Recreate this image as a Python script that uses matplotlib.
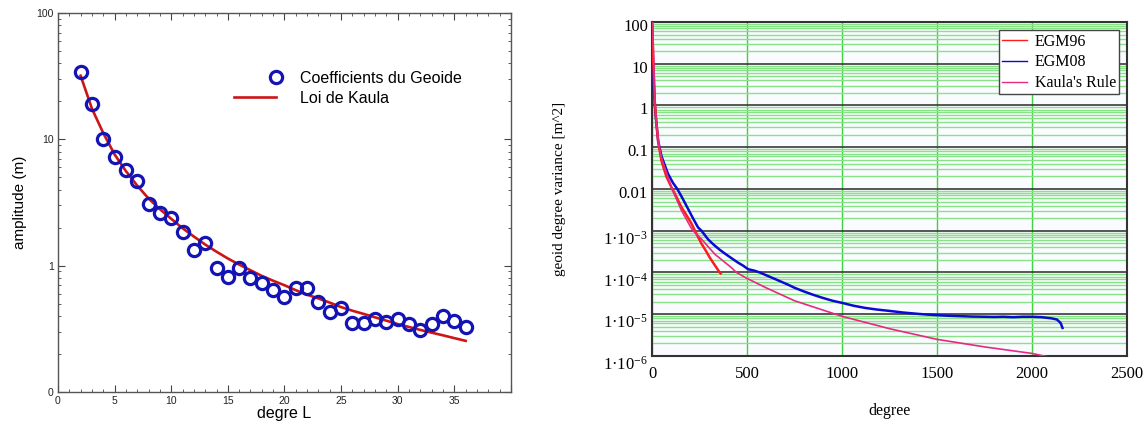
import numpy as np
import matplotlib
matplotlib.use("Agg")
from matplotlib import pyplot as plt
from matplotlib.ticker import LogLocator, FixedLocator, NullFormatter, MultipleLocator
from matplotlib.legend_handler import HandlerLine2D
import matplotlib.transforms as mtrans

# ---- left panel data ----
degre_L = [2, 3, 4, 5, 6, 7, 8, 9, 10, 11, 12, 13, 14, 15, 16, 17, 18, 19,
           20, 21, 22, 23, 24, 25, 26, 27, 28, 29, 30, 31, 32, 33, 34, 35, 36]
coeff_geoide = [33.9, 19.0, 10.0, 7.3, 5.75, 4.7, 3.06, 2.6, 2.4, 1.85, 1.32,
                1.5, 0.96, 0.82, 0.96, 0.80, 0.73, 0.64, 0.565, 0.66, 0.665,
                0.52, 0.43, 0.465, 0.35, 0.35, 0.38, 0.356, 0.376, 0.345,
                0.311, 0.347, 0.40, 0.363, 0.329]
kaula_amp = [31.9, 17.5, 11.2, 7.6, 5.6, 4.3, 3.4, 2.8, 2.35, 1.98, 1.7, 1.47,
             1.29, 1.14, 1.02, 0.92, 0.83, 0.76, 0.70, 0.64, 0.59, 0.55, 0.51,
             0.47, 0.44, 0.415, 0.39, 0.367, 0.345, 0.327, 0.31, 0.295, 0.281,
             0.267, 0.254]

# ---- right panel data ----
egm96_deg = [2, 5, 9, 14, 20, 32, 49, 75, 102, 128, 154, 180, 207, 233, 260,
             280, 303, 330, 356, 361]
egm96_var = [80, 18, 5.5, 1.3, 0.55, 0.14, 0.048, 0.02, 0.011, 6.5e-3, 3.7e-3,
             2.4e-3, 1.5e-3, 8.5e-4, 4.9e-4, 3.5e-4, 2.3e-4, 1.5e-4, 1.0e-4,
             9.5e-5]

egm08_deg = [2, 4, 8, 14, 20, 32, 50, 84, 110, 133, 160, 190, 215, 242, 260,
             295, 325, 356, 385, 418, 450, 480, 505, 540, 567, 600, 640, 680,
             720, 750, 800, 850, 900, 950, 1000, 1060, 1120, 1180, 1250, 1320,
             1400, 1450, 1500, 1560, 1620, 1680, 1750, 1800, 1850, 1900, 1950,
             2000, 2050, 2100, 2130, 2150, 2160]
egm08_var = [60, 15, 4.0, 1.1, 0.5, 0.14, 0.06, 0.023, 0.014, 0.01, 6e-3,
             3.3e-3, 2.0e-3, 1.2e-3, 1.0e-3, 6.2e-4, 4.6e-4, 3.5e-4, 2.8e-4,
             2.2e-4, 1.75e-4, 1.45e-4, 1.2e-4, 1.1e-4, 1.0e-4, 8.6e-5, 7.2e-5,
             6.0e-5, 5.0e-5, 4.3e-5, 3.5e-5, 2.9e-5, 2.45e-5, 2.1e-5, 1.87e-5,
             1.6e-5, 1.42e-5, 1.3e-5, 1.2e-5, 1.1e-5, 1.02e-5, 9.8e-6, 9.5e-6,
             9.2e-6, 9.0e-6, 8.8e-6, 8.7e-6, 8.6e-6, 8.7e-6, 8.5e-6, 8.7e-6,
             8.7e-6, 8.5e-6, 8.0e-6, 7.5e-6, 6.2e-6, 4.7e-6]

kaula_deg = [3, 4, 6, 9, 12, 16, 25, 37, 50, 84, 105, 154, 207, 216, 260, 330,
             418, 444, 500, 600, 750, 1000, 1250, 1500, 1750, 2000, 2085]
kaula_var = [200, 100, 30, 10, 4, 1, 0.3, 0.1, 0.055, 0.019, 0.01, 3.1e-3,
             1.14e-3, 1e-3, 6.3e-4, 2.75e-4, 1.3e-4, 1e-4, 7.2e-5, 4.3e-5,
             2.1e-5, 8.9e-6, 4.5e-6, 2.5e-6, 1.65e-6, 1.15e-6, 9.5e-7]

right_yticks = [1e-6, 1e-5, 1e-4, 1e-3, 0.01, 0.1, 1, 10, 100]
right_ylabels = [r'$\mathdefault{1·10^{-6}}$', r'$\mathdefault{1·10^{-5}}$',
                 r'$\mathdefault{1·10^{-4}}$', r'$\mathdefault{1·10^{-3}}$',
                 '0.01', '0.1', '1', '10', '100']

SANS = ['Liberation Sans', 'DejaVu Sans']
SERIF = ['Liberation Serif', 'DejaVu Serif']


class MarkerAtEnd(HandlerLine2D):
    # the single marker sits in the middle of xdata, so stretch xdata to put
    # it at the right end of the handle box (marker-only handle, no line)
    def get_xdata(self, legend, xdescent, ydescent, width, height, fontsize):
        x = np.array([-xdescent, -xdescent + 2 * width])
        return x, np.array([-xdescent + width])


def left_panel(fig):
    ax = fig.add_axes([0.0505, 0.0776, 0.3946, 0.8918])
    pts, = ax.plot(degre_L, coeff_geoide, 'o', ms=8.8, mfc='none', mec='#1414b4',
                   mew=2.3, label='Coefficients du Geoide', zorder=3)
    ax.plot(degre_L, kaula_amp, '-', color='#cc1616', lw=1.9,
            label='Loi de Kaula', zorder=2)
    ax.set_yscale('log')
    ax.set_xlim(0, 40)
    ax.set_ylim(0.1, 100)
    ax.xaxis.set_major_locator(FixedLocator([0, 5, 10, 15, 20, 25, 30, 35, 40]))
    ax.set_xticklabels(['0', '5', '10', '15', '20', '25', '30', '35', ''])
    ax.xaxis.set_minor_locator(MultipleLocator(1))
    ax.yaxis.set_major_locator(FixedLocator([0.1, 1, 10, 100]))
    ax.set_yticklabels(['0', '1', '10', '100'])
    ax.yaxis.set_minor_locator(LogLocator(base=10, subs=np.arange(2, 10), numticks=50))
    ax.yaxis.set_minor_formatter(NullFormatter())
    ax.tick_params(which='both', direction='in', top=True, right=True,
                   colors='#444444', labelcolor='#222222')
    ax.tick_params(which='major', length=5, width=0.8, labelsize=7.5, pad=3)
    ax.tick_params(which='minor', length=2.5, width=0.6)
    for lab in ax.get_xticklabels() + ax.get_yticklabels():
        lab.set_family(SANS)
    for s in ax.spines.values():
        s.set_color('#555555')
        s.set_linewidth(1.0)
    ax.set_ylabel('amplitude (m)', fontsize=11, family=SANS, labelpad=7)
    ax.set_xlabel('degre L', fontsize=11.5, family=SANS, labelpad=0)
    ax.legend(loc='upper left', bbox_to_anchor=(0.375, 0.864),
              frameon=False, handlelength=2.6, handletextpad=1.5,
              labelspacing=0.3, borderaxespad=0,
              handler_map={pts: MarkerAtEnd(numpoints=1)},
              prop={'family': SANS, 'size': 11.5})
    return ax


def right_panel(fig):
    ax = fig.add_axes([0.568, 0.1624, 0.4138, 0.7859])
    ax.set_facecolor('#fafbff')
    ax.plot(egm08_deg, egm08_var, color='#0a0ad2', lw=1.8, label='EGM08', zorder=3)
    ax.plot(egm96_deg, egm96_var, color='#ff1c1c', lw=1.8, label='EGM96', zorder=4)
    ax.plot(kaula_deg, kaula_var, color='#e62a82', lw=1.2,
            label="Kaula's Rule", zorder=5)
    ax.set_yscale('log')
    ax.set_xlim(0, 2500)
    ax.set_ylim(1e-6, 100)
    ax.set_xticks([0, 500, 1000, 1500, 2000, 2500])
    ax.yaxis.set_major_locator(FixedLocator(right_yticks))
    ax.set_yticklabels(right_ylabels)
    ax.yaxis.set_minor_locator(LogLocator(base=10, subs=np.arange(2, 10), numticks=100))
    ax.yaxis.set_minor_formatter(NullFormatter())
    ax.grid(which='minor', axis='y', color='#86e486', lw=1.0, zorder=0)
    ax.grid(which='major', axis='y', color='#3a3a3a', lw=1.2, zorder=1)
    ax.grid(which='major', axis='x', color='#3ed23e', lw=1.0, zorder=1)
    ax.set_axisbelow(True)
    ax.tick_params(which='both', length=0, labelsize=12)
    ax.tick_params(axis='x', pad=7)
    ax.tick_params(axis='y', pad=3)
    for lab in ax.get_xticklabels() + ax.get_yticklabels():
        lab.set_family(SERIF)
    for lab in ax.get_yticklabels():
        dy = -7 if '$' in lab.get_text() else -3
        off = mtrans.ScaledTranslation(0, dy / 100., fig.dpi_scale_trans)
        lab.set_transform(lab.get_transform() + off)
    for s in ax.spines.values():
        s.set_color('#333333')
        s.set_linewidth(1.5)
    ax.set_xlabel('degree', fontsize=11.5, family=SERIF, labelpad=15)
    ax.set_ylabel('geoid degree variance [m^2]', fontsize=11, family=SERIF,
                  labelpad=27)
    handles, labels = ax.get_legend_handles_labels()
    order = [1, 0, 2]
    leg = ax.legend([handles[i] for i in order], [labels[i] for i in order],
                    loc='upper right', bbox_to_anchor=(0.983, 0.975),
                    borderaxespad=0, fancybox=False, framealpha=1,
                    edgecolor='#444444', handlelength=1.6, handletextpad=0.45,
                    labelspacing=0.3, borderpad=0.2,
                    prop={'family': SERIF, 'size': 11.5})
    leg.get_frame().set_linewidth(1.0)
    for h in leg.get_lines():
        h.set_linewidth(1.0)
    return ax


def main():
    plt.rcParams['mathtext.fontset'] = 'stix'
    fig = plt.figure(figsize=(11.48, 4.25), dpi=100)
    left_panel(fig)
    right_panel(fig)
    fig.savefig('out.png', dpi=100)


if __name__ == "__main__":
    main()
